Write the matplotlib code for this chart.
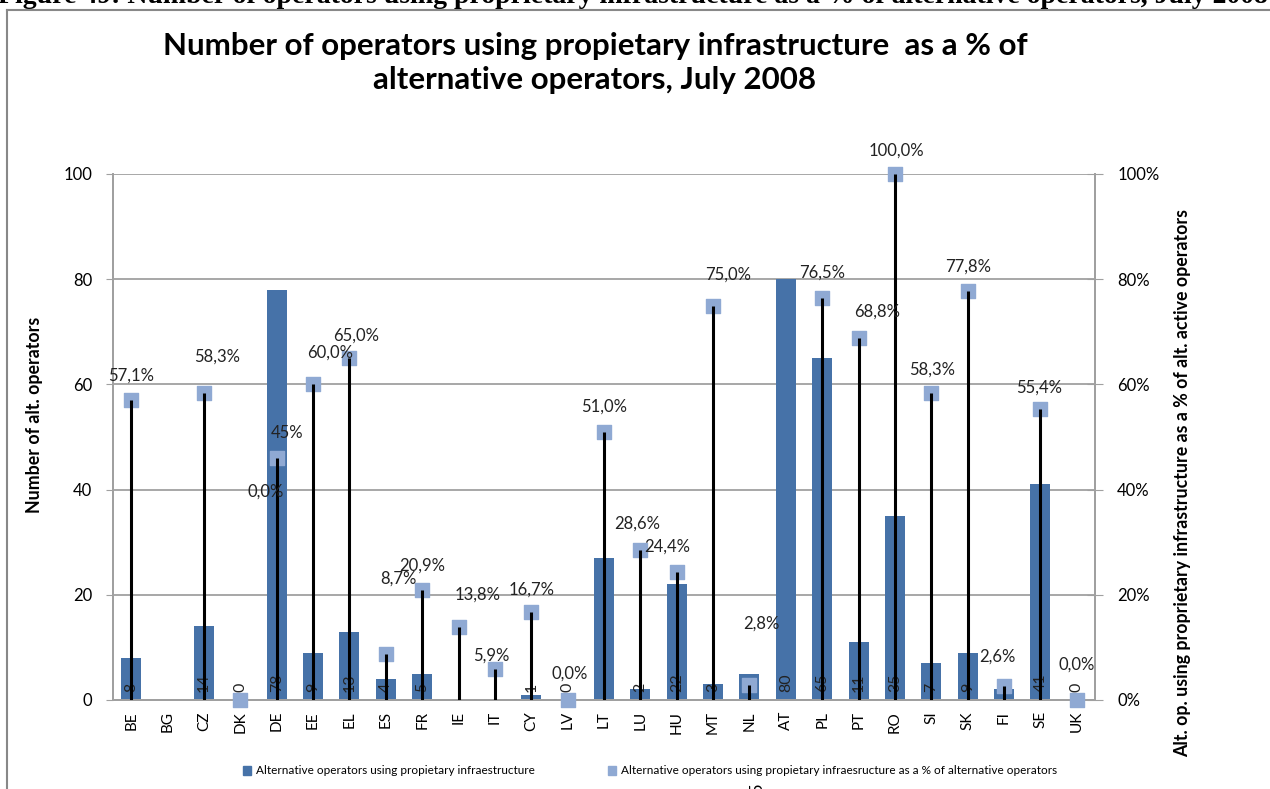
import matplotlib
matplotlib.use("Agg")
import matplotlib.pyplot as plt
import numpy as np
from matplotlib.lines import Line2D

plt.rcParams['font.family'] = ['Lato', 'DejaVu Sans']

countries = ['BE', 'BG', 'CZ', 'DK', 'DE', 'EE', 'EL', 'ES', 'FR', 'IE', 'IT', 'CY', 'LV', 'LT',
             'LU', 'HU', 'MT', 'NL', 'AT', 'PL', 'PT', 'RO', 'SI', 'SK', 'FI', 'SE', 'UK']
operators = [8, 0, 14, 0, 78, 9, 13, 4, 5, 0, 0, 1, 0, 27,
             2, 22, 3, 5, 80, 65, 11, 35, 7, 9, 2, 41, 0]
bar_labels = ['8', '', '14', '0', '78', '9', '13', '4', '5', '', '', '1', '0', '',
              '2', '22', '3', '', '80', '65', '11', '35', '7', '9', '2', '41', '0']
pct = [57.1, np.nan, 58.3, 0.0, 46.0, 60.0, 65.0, 8.7, 20.9, 13.8, 5.9, 16.7, 0.0, 51.0,
       28.6, 24.4, 75.0, 2.8, np.nan, 76.5, 68.8, 100.0, 58.3, 77.8, 2.6, 55.4, 0.0]
pct_labels = ['57,1%', '', '58,3%', '0,0%', '45%', '60,0%', '65,0%', '8,7%', '20,9%', '13,8%',
              '5,9%', '16,7%', '0,0%', '51,0%', '28,6%', '24,4%', '75,0%', '2,8%', '', '76,5%',
              '68,8%', '100,0%', '58,3%', '77,8%', '2,6%', '55,4%', '0,0%']
# label placement (x shift in categories, y in %) as laid out in the original
lab_dx = [0, 0, 0.36, 0.69, 0.28, 0.47, 0.19, 0.34, 0, 0.52, -0.1, 0, 0.06, 0,
          -0.08, -0.25, 0.4, 0.33, 0, 0, 0.5, 0.03, 0.03, 0, -0.18, -0.05, 0]
lab_y = [61.6, 0, 65.2, 39.7, 50.8, 66.0, 69.2, 23.0, 25.6, 20.0, 8.4, 21.0, 5.0, 55.7,
         33.5, 29.1, 80.8, 14.6, 0, 81.2, 73.8, 104.4, 62.9, 82.3, 8.25, 59.3, 6.7]

bar_col = '#4672A8'
mark_col = '#8FA9D3'
grey = '#A0A0A0'

fig = plt.figure(figsize=(12.7, 7.89), dpi=100)
ax = fig.add_axes([113/1270, 1-700/789, (1095-113)/1270, (700-174)/789])
ax2 = ax.twinx()

x = np.arange(len(countries))
ax.bar(x, operators, width=0.55, color=bar_col, zorder=2)
for i, t in enumerate(bar_labels):
    if t:
        ax.text(x[i], 1.6, t, rotation=90, ha='center', va='bottom', fontsize=11.5,
                color='#222222', zorder=5)

ax.set_ylim(0, 100)
ax.set_xlim(-0.5, len(countries) - 0.5)
ax.set_yticks(np.arange(0, 101, 20))
ax.yaxis.grid(True, color=grey, lw=1.3, zorder=0)
ax.set_axisbelow(True)
ax.set_xticks(x)
ax.set_xticklabels(countries, rotation=90, fontsize=11)
ax.tick_params(axis='x', length=0, pad=8)
ax.tick_params(axis='y', labelsize=12, length=5, color=grey, pad=10)

pv = np.array(pct, dtype=float)
ok = ~np.isnan(pv)
ax2.vlines(x[ok], 0, pv[ok], color='black', lw=2.2, zorder=4)
ax2.scatter(x[ok], pv[ok], marker='s', s=110, color=mark_col, zorder=3, clip_on=False)
for i, t in enumerate(pct_labels):
    if t:
        ax2.text(x[i] + lab_dx[i], lab_y[i], t, ha='center', va='center', fontsize=12,
                 color='#222222', zorder=6)
ax2.set_ylim(0, 100)
ax2.set_yticks(np.arange(0, 101, 20))
ax2.set_yticklabels([f'{v}%' for v in range(0, 101, 20)])
ax2.tick_params(axis='y', labelsize=12, direction='inout', length=12, color=grey, pad=10)

for a in (ax, ax2):
    for s in a.spines.values():
        s.set_color(grey)
        s.set_linewidth(1.3)
    a.spines['top'].set_visible(False)

fig.text(35/1270, 1-415/789, 'Number of alt. operators', rotation=90, ha='center', va='center',
         fontsize=12.8, fontweight='bold')
fig.text(1183/1270, 1-483/789,
         'Alt. op. using proprietary infrastructure as a % of alt. active operators',
         rotation=90, ha='center', va='center', fontsize=12.8, fontweight='bold')

fig.text(595/1270, 1-46/789, 'Number of operators using propietary infrastructure  as a % of',
         ha='center', va='center', fontsize=22.5, fontweight='bold')
fig.text(595/1270, 1-80/789, 'alternative operators, July 2008',
         ha='center', va='center', fontsize=22.5, fontweight='bold')

fig.text(-2/1270, 1-3/789,
         'Figure 49: Number of operators using proprietary infrastructure as a % of alternative operators, July 2008',
         ha='left', va='baseline', fontsize=20, fontweight='bold', family='Liberation Serif')

fig.add_artist(Line2D([7/1270, 1], [1-10/789, 1-10/789], color='#888888', lw=1.5))
fig.add_artist(Line2D([7/1270, 7/1270], [0, 1-10/789], color='#888888', lw=1.5))

h1 = plt.Rectangle((0, 0), 1, 1, color=bar_col)
h2 = plt.Rectangle((0, 0), 1, 1, color=mark_col)
fig.legend([h1, h2],
           ['Alternative operators using propietary infraestructure',
            'Alternative operators using propietary infraesructure as a % of alternative operators'],
           loc='center', bbox_to_anchor=(650/1270, 1-771/789), ncol=2, frameon=False,
           fontsize=8.5, handlelength=0.7, handleheight=0.7, handletextpad=0.4, columnspacing=6.2)

fig.text(757/1270, 1-788/789, '5', rotation=90, ha='center', va='center', fontsize=12)

fig.savefig('out.png', dpi=100)
